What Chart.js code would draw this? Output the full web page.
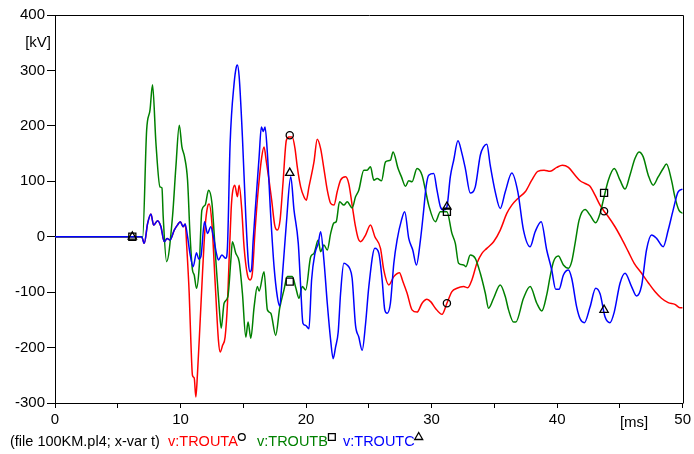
<!DOCTYPE html>
<html><head><meta charset="utf-8">
<script src="https://cdn.jsdelivr.net/npm/chart.js@4.4.0/dist/chart.umd.min.js"></script>
<style>html,body{margin:0;padding:0;background:#fff;}canvas{display:block;}</style>
</head><body>
<canvas id="c" width="694" height="454"></canvas>
<script>
// ---- data (time in ms, voltage in kV) ----
const xRange = [0, 50];
const yRange = [-300, 400];
const xUnit = '[ms]';
const yUnit = '[kV]';
const fileLabel = '(file 100KM.pl4; x-var t)';
const seriesNames = ['v:TROUTA', 'v:TROUTB', 'v:TROUTC'];

const troutC = [[0,0],[6.9,0],[7.11,-12],[7.38,24],[7.64,41],[7.86,21],[8.17,29],[8.44,18],[8.70,-9],[8.93,-3],[9.16,-6],[9.50,12],[9.75,21],[9.98,27],[10.21,18],[10.37,23],[10.56,0],[10.75,-30],[11.01,-54],[11.27,-29],[11.45,-40],[11.62,-36],[11.91,27],[12.15,6],[12.41,18],[12.62,0],[12.86,-30],[13.02,-42],[13.29,-33],[13.61,-39],[13.74,-18],[13.95,168],[14.27,277],[14.45,307],[14.53,310],[14.67,289],[14.93,180],[15.20,36],[15.41,-48],[15.54,-63],[15.66,-58],[15.78,-9],[15.99,60],[16.26,144],[16.44,198],[16.60,190],[16.73,198],[16.92,150],[17.19,36],[17.45,-54],[17.71,-108],[17.90,-125],[18.11,-72],[18.43,24],[18.78,108],[19.04,48],[19.38,-12],[19.57,-90],[19.75,-156],[19.96,-160],[20.23,-166],[20.44,-78],[20.71,-30],[20.97,-12],[21.16,9],[21.42,-42],[21.69,-120],[21.96,-187],[22.16,-220],[22.35,-199],[22.56,-172],[22.75,-102],[23.01,-48],[23.27,-51],[23.47,-57],[23.67,-75],[23.94,-160],[24.20,-181],[24.47,-205],[24.74,-157],[25.0,-90],[25.48,-21],[25.80,-30],[26.06,-78],[26.27,-132],[26.46,-138],[26.72,-120],[26.99,-48],[27.25,-6],[27.60,30],[27.86,45],[28.18,-3],[28.50,-24],[28.79,-51],[29.11,-6],[29.37,48],[29.56,90],[29.77,111],[30.17,114],[30.43,84],[30.70,54],[30.96,48],[31.22,54],[31.49,108],[31.76,138],[32.10,173],[32.42,150],[32.69,123],[33.08,79],[33.48,90],[33.88,147],[34.14,162],[34.40,167],[34.67,129],[35.07,81],[35.47,51],[35.87,81],[36.39,115],[36.87,81],[37.32,12],[37.85,-18],[38.25,9],[38.73,27],[39.17,-24],[39.57,-60],[39.89,-95],[40.15,-95],[40.50,-69],[40.90,-60],[41.16,-75],[41.56,-127],[41.83,-148],[42.17,-155],[42.62,-127],[43.07,-93],[43.42,-103],[43.82,-145],[44.21,-155],[44.55,-136],[45.01,-84],[45.41,-66],[45.93,-90],[46.33,-107],[46.73,-88],[47.12,-24],[47.52,3],[47.92,-3],[48.45,-18],[48.85,12],[49.24,48],[49.64,81],[50,86]];

const troutA = [[0,0],[6.9,0],[7.11,-12],[7.38,24],[7.64,41],[7.86,21],[8.17,29],[8.44,18],[8.70,-9],[8.93,-3],[9.16,-6],[9.50,12],[9.75,21],[9.98,27],[10.21,18],[10.37,23],[10.50,-20],[10.69,-102],[10.83,-193],[10.95,-250],[11.09,-255],[11.22,-289],[11.35,-247],[11.54,-163],[11.75,-66],[11.96,18],[12.15,54],[12.28,59],[12.50,24],[12.76,-84],[13.02,-187],[13.16,-208],[13.35,-196],[13.55,-181],[13.74,-120],[13.87,-42],[14.03,48],[14.13,78],[14.32,93],[14.53,72],[14.67,93],[14.88,48],[15.06,-18],[15.33,-69],[15.54,-78],[15.72,-66],[15.94,12],[16.20,87],[16.47,144],[16.65,162],[16.84,135],[17.05,102],[17.26,66],[17.50,21],[17.71,12],[17.93,30],[18.16,96],[18.43,174],[18.64,180],[18.90,180],[19.12,159],[19.30,126],[19.57,90],[19.83,72],[20.02,66],[20.23,90],[20.63,135],[20.89,176],[21.16,159],[21.42,123],[21.69,84],[21.96,60],[22.22,57],[22.48,81],[22.75,102],[23.15,108],[23.41,95],[23.67,57],[23.94,18],[24.15,-3],[24.34,-9],[24.74,3],[25.13,21],[25.48,0],[25.93,-21],[26.19,-60],[26.59,-87],[26.99,-72],[27.44,-65],[27.70,-80],[28.05,-102],[28.44,-132],[28.84,-136],[29.24,-120],[29.63,-113],[29.96,-118],[30.30,-129],[30.83,-140],[31.22,-120],[31.62,-99],[32.02,-93],[32.55,-90],[32.88,-92],[33.21,-78],[33.61,-48],[34.01,-30],[34.40,-21],[34.94,-9],[35.47,12],[35.99,42],[36.39,57],[36.92,70],[37.46,81],[37.98,102],[38.46,118],[38.96,120],[39.44,118],[39.97,125],[40.42,129],[40.90,125],[41.43,111],[41.83,101],[42.23,96],[42.62,91],[43.02,75],[43.42,57],[43.74,46],[44.08,36],[44.61,18],[45.13,-3],[45.67,-27],[46.14,-48],[46.73,-66],[47.26,-83],[47.79,-99],[48.31,-111],[48.85,-119],[49.38,-122],[49.78,-128],[50,-128]];

const troutB = [[0,0],[6.9,0],[6.98,-2],[7.30,192],[7.57,229],[7.77,274],[8.04,169],[8.36,90],[8.52,88],[8.62,36],[8.89,-45],[9.36,36],[9.63,126],[9.90,201],[10.11,162],[10.32,144],[10.56,102],[10.75,6],[10.95,-60],[11.09,-69],[11.27,-93],[11.49,-54],[11.70,48],[11.96,57],[12.23,84],[12.50,61],[12.81,-42],[13.08,-127],[13.24,-165],[13.47,-120],[13.77,-108],[14.01,-42],[14.13,-9],[14.40,-30],[14.67,-45],[14.93,-102],[15.20,-181],[15.38,-154],[15.60,-183],[15.86,-127],[16.12,-90],[16.26,-98],[16.65,-63],[16.92,-132],[17.19,-138],[17.58,-178],[17.90,-129],[18.24,-96],[18.51,-72],[18.90,-72],[19.17,-91],[19.44,-111],[19.70,-90],[19.97,-96],[20.37,-36],[20.63,-30],[20.97,-6],[21.16,-27],[21.42,-15],[21.69,-24],[21.96,6],[22.22,25],[22.40,27],[22.67,63],[23.01,57],[23.28,63],[23.67,52],[23.94,72],[24.20,84],[24.60,120],[24.86,120],[25.13,126],[25.40,102],[25.66,105],[26.01,101],[26.33,135],[26.72,138],[26.93,153],[27.33,123],[27.60,108],[27.92,91],[28.18,101],[28.44,99],[28.84,123],[29.24,111],[29.51,84],[29.77,57],[30.30,27],[30.70,45],[31.22,45],[31.62,6],[31.89,-12],[32.15,-48],[32.55,-51],[32.73,-54],[33.08,-33],[33.48,-39],[33.88,-66],[34.28,-102],[34.54,-129],[34.94,-111],[35.47,-87],[35.87,-108],[36.13,-132],[36.53,-154],[36.71,-154],[37.32,-111],[37.85,-90],[38.38,-120],[38.78,-134],[39.17,-105],[39.44,-72],[39.71,-45],[40.10,-35],[40.50,-51],[40.90,-57],[41.16,-45],[41.43,-12],[41.75,30],[42.23,49],[42.62,39],[43.07,25],[43.42,42],[43.68,66],[44.08,102],[44.55,123],[45.01,102],[45.41,86],[45.80,111],[46.20,141],[46.52,153],[46.86,144],[47.26,111],[47.65,93],[48.05,108],[48.45,123],[48.71,131],[49.11,102],[49.38,72],[49.70,48],[50,42]];

// marker positions (ATP-style curve identifiers)
const markA = [[18.70,183],[31.22,-120],[43.74,46]];
const markB = [[6.16,0],[18.70,-81],[31.22,45],[43.74,79]];
const markC = [[6.16,0],[18.70,115],[31.22,54],[43.74,-132]];

const colA = '#ff0000', colB = '#008000', colC = '#0000ff';
const FONT = '"Liberation Sans", Arial, sans-serif';

const toXY = a => a.map(p => ({x: p[0], y: p[1]}));
const lineDs = (label, arr, col, order) => ({
  label, data: toXY(arr), borderColor: col, borderWidth: 1.5, pointRadius: 0,
  fill: false, cubicInterpolationMode: 'monotone', order
});
const markDs = (arr, style, r) => ({
  label: 'm', data: toXY(arr), showLine: false, pointStyle: style, pointRadius: r,
  pointBorderColor: '#000', pointBackgroundColor: 'rgba(0,0,0,0)', pointBorderWidth: 1.3, order: 0
});

const framePlugin = {
  id: 'frame',
  afterDraw(chart) {
    const {ctx, chartArea: a} = chart;
    ctx.save();
    ctx.strokeStyle = '#000'; ctx.lineWidth = 1;
    ctx.beginPath();
    ctx.moveTo(Math.round(a.left) + 0.5, Math.round(a.top) + 0.5);
    ctx.lineTo(Math.round(a.right) + 0.5, Math.round(a.top) + 0.5);
    ctx.lineTo(Math.round(a.right) + 0.5, Math.round(a.bottom) + 0.5);
    ctx.stroke();
    ctx.fillStyle = '#000';
    ctx.font = '15px ' + FONT;
    ctx.textBaseline = 'middle';
    ctx.textAlign = 'right';
    ctx.fillText(yUnit, 51, 43);
    ctx.textAlign = 'left';
    const xs = chart.scales.x;
    ctx.fillText(xUnit, xs.getPixelForValue(45), 423);
    // legend line
    ctx.font = '14.5px ' + FONT;
    const y = 442;
    ctx.fillText(fileLabel, 10, y);
    const cols = [colA, colB, colC];
    const starts = [168, 257, 343];
    for (let i = 0; i < 3; i++) {
      ctx.fillStyle = cols[i];
      ctx.fillText(seriesNames[i], starts[i], y);
      const w = ctx.measureText(seriesNames[i]).width;
      const mx = starts[i] + w + 4, my = y - 5;
      ctx.strokeStyle = '#000'; ctx.lineWidth = 1.3;
      ctx.beginPath();
      if (i === 0) ctx.arc(mx, my, 3.4, 0, Math.PI * 2);
      else if (i === 1) ctx.rect(mx - 3.4, my - 3.4, 6.8, 6.8);
      else { ctx.moveTo(mx, my - 4.5); ctx.lineTo(mx + 4, my + 2.5); ctx.lineTo(mx - 4, my + 2.5); ctx.closePath(); }
      ctx.stroke();
    }
    ctx.restore();
  }
};

new Chart(document.getElementById('c'), {
  type: 'line',
  data: {
    datasets: [
      lineDs(seriesNames[0], troutA, colA, 3),
      lineDs(seriesNames[1], troutB, colB, 2),
      lineDs(seriesNames[2], troutC, colC, 1),
      markDs(markA, 'circle', 3.6),
      markDs(markB, 'rect', 5),
      markDs(markC, 'triangle', 4.8)
    ]
  },
  options: {
    responsive: false, animation: false, devicePixelRatio: 1,
    layout: {padding: {top: 15, right: 9, left: 0, bottom: 0}},
    plugins: {legend: {display: false}, tooltip: {enabled: false}},
    scales: {
      x: {
        type: 'linear', min: xRange[0], max: xRange[1],
        ticks: {stepSize: 5, autoSkip: false, maxRotation: 0, color: '#000', padding: 3,
          font: {family: FONT, size: 15},
          callback: v => (v % 10 === 0 ? String(v) : '')},
        grid: {drawOnChartArea: false, drawTicks: true, tickLength: 5, color: '#000'},
        border: {display: true, color: '#000', width: 1},
        afterFit: s => { s.height = 51; }
      },
      y: {
        type: 'linear', min: yRange[0], max: yRange[1],
        ticks: {stepSize: 100, color: '#000', padding: 2, font: {family: FONT, size: 15}},
        grid: {drawOnChartArea: false, drawTicks: true, tickLength: 8, color: '#000'},
        border: {display: true, color: '#000', width: 1},
        afterFit: s => { s.width = 55; }
      }
    }
  },
  plugins: [framePlugin]
});
</script>
</body></html>
